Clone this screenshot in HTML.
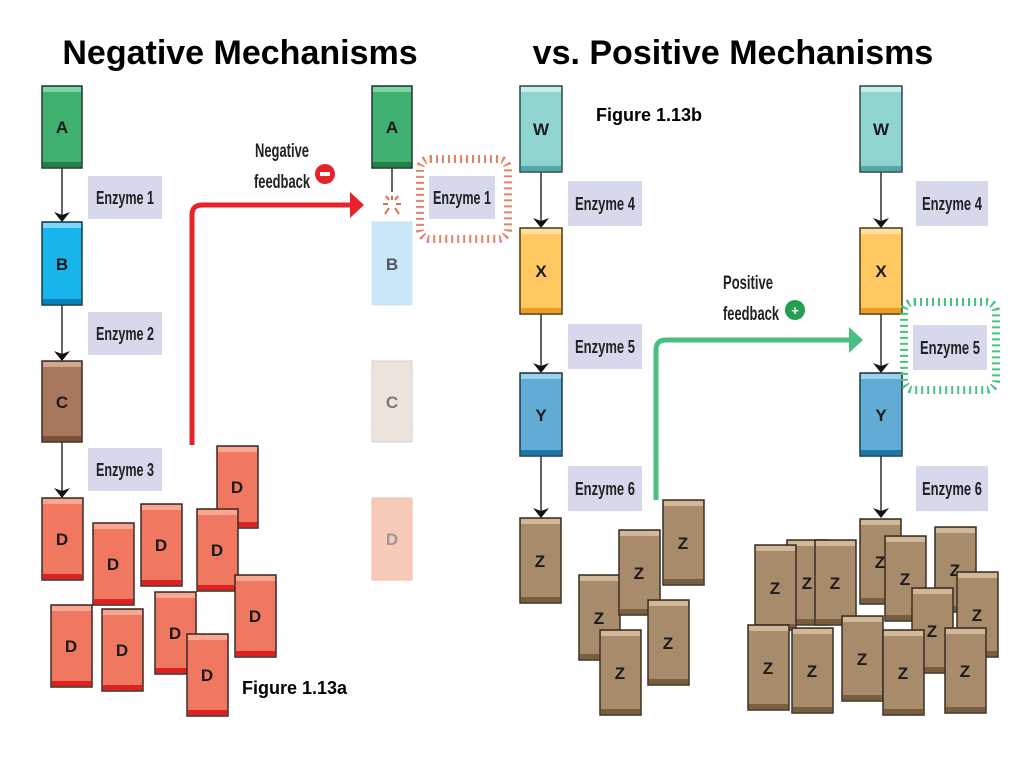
<!DOCTYPE html>
<html><head><meta charset="utf-8"><style>
body{margin:0;background:#fff;}
svg text{font-family:"Liberation Sans",sans-serif;}
.t{font-size:17px;fill:#1a1a1a;font-weight:bold;text-anchor:middle;}
.e{font-size:18px;fill:#222;text-anchor:middle;font-weight:bold;}
.f{font-size:19px;fill:#222;text-anchor:middle;font-weight:bold;}
</style></head><body>
<svg width="1024" height="768" viewBox="0 0 1024 768" xmlns="http://www.w3.org/2000/svg">
<defs>
<marker id="ar" markerWidth="10" markerHeight="18" refX="9" refY="9" orient="auto" markerUnits="userSpaceOnUse"><path d="M0,1 L10,9 L0,17 L3,9 Z" fill="#111"/></marker>
<g id="D"><rect x="0" y="0" width="41" height="82" fill="#f07860" stroke="#3a2a28" stroke-width="1.5"/><rect x="1" y="1" width="39" height="5" fill="#f8a890"/><rect x="1" y="76" width="39" height="5" fill="#e02020"/><text x="20" y="47" class="t">D</text></g>
<g id="Z"><rect x="0" y="0" width="41" height="85" fill="#a88b6b" stroke="#3a2e22" stroke-width="1.5"/><rect x="1" y="1" width="39" height="5" fill="#d0b898"/><rect x="1" y="79" width="39" height="5" fill="#7a5e40"/><text x="20" y="49" class="t">Z</text></g>
</defs>
<text x="240" y="64" font-size="34" font-weight="bold" text-anchor="middle" fill="#000">Negative Mechanisms</text>
<text x="733" y="64" font-size="34" font-weight="bold" text-anchor="middle" fill="#000">vs. Positive Mechanisms</text>
<text x="596" y="121" font-size="18" font-weight="bold" fill="#000">Figure 1.13b</text>
<text x="242" y="694" font-size="18" font-weight="bold" fill="#000">Figure 1.13a</text>

<line x1="62" y1="168" x2="62" y2="221" stroke="#111" stroke-width="1.3" marker-end="url(#ar)"/>
<line x1="62" y1="305" x2="62" y2="360" stroke="#111" stroke-width="1.3" marker-end="url(#ar)"/>
<line x1="62" y1="442" x2="62" y2="497" stroke="#111" stroke-width="1.3" marker-end="url(#ar)"/>
<g><rect x="42" y="86" width="40" height="82" fill="#3fb070" stroke="#1f3a2a" stroke-width="1.5"/><rect x="43" y="87" width="38" height="5" fill="#7ed4a0"/><rect x="43" y="162" width="38" height="5" fill="#24804a"/><text x="62" y="133" class="t">A</text></g>
<g><rect x="42" y="222" width="40" height="83" fill="#18b4ec" stroke="#1a3a4a" stroke-width="1.5"/><rect x="43" y="223" width="38" height="5" fill="#80d8f8"/><rect x="43" y="299" width="38" height="5" fill="#0a80b8"/><text x="62" y="270" class="t">B</text></g>
<g><rect x="42" y="361" width="40" height="81" fill="#a8785e" stroke="#3a2a20" stroke-width="1.5"/><rect x="43" y="362" width="38" height="5" fill="#d0a890"/><rect x="43" y="436" width="38" height="5" fill="#7a5038"/><text x="62" y="408" class="t">C</text></g>
<rect x="88" y="176" width="74" height="43" fill="#d8d8ec"/><text x="125" y="204" class="e" textLength="58" lengthAdjust="spacingAndGlyphs">Enzyme 1</text>
<rect x="88" y="312" width="74" height="43" fill="#d8d8ec"/><text x="125" y="340" class="e" textLength="58" lengthAdjust="spacingAndGlyphs">Enzyme 2</text>
<rect x="88" y="448" width="74" height="43" fill="#d8d8ec"/><text x="125" y="476" class="e" textLength="58" lengthAdjust="spacingAndGlyphs">Enzyme 3</text>
<use href="#D" x="42" y="498"/><use href="#D" x="93" y="523"/><use href="#D" x="141" y="504"/><use href="#D" x="217" y="446"/><use href="#D" x="197" y="509"/><use href="#D" x="51" y="605"/><use href="#D" x="102" y="609"/><use href="#D" x="155" y="592"/><use href="#D" x="235" y="575"/><use href="#D" x="187" y="634"/>

<path d="M192,445 V215 Q192,205 202,205 H352" fill="none" stroke="#e8222a" stroke-width="5"/>
<path d="M350,192 L364,205 L350,218 Z" fill="#e8222a"/>
<text x="282" y="157" class="f" textLength="54" lengthAdjust="spacingAndGlyphs">Negative</text>
<text x="282" y="188" class="f" textLength="56" lengthAdjust="spacingAndGlyphs">feedback</text>
<circle cx="325" cy="174" r="10" fill="#e8222a"/><rect x="320" y="172" width="10" height="4" fill="#fff"/>

<rect x="372" y="222" width="40" height="83" fill="#c8e8f8" stroke="#d0e0e8" stroke-width="1"/><text x="392" y="270" class="t" style="fill:#556">B</text>
<rect x="372" y="361" width="40" height="81" fill="#ece4dc" stroke="#d8d0c8"/><text x="392" y="408" class="t" style="fill:#777">C</text>
<rect x="372" y="498" width="40" height="82" fill="#f8cab8" stroke="#f0c0b0"/><text x="392" y="545" class="t" style="fill:#999">D</text>
<line x1="392" y1="168" x2="392" y2="192" stroke="#111" stroke-width="1.3"/>
<g stroke="#e86a4a" stroke-width="2"><line x1="392" y1="196" x2="392" y2="200"/><line x1="383" y1="204" x2="388" y2="204"/><line x1="396" y1="204" x2="401" y2="204"/><line x1="385" y1="214" x2="389" y2="208"/><line x1="399" y1="214" x2="395" y2="208"/><line x1="386" y1="196" x2="389" y2="200"/><line x1="398" y1="196" x2="395" y2="200"/></g>
<g><rect x="372" y="86" width="40" height="82" fill="#3fb070" stroke="#1f3a2a" stroke-width="1.5"/><rect x="373" y="87" width="38" height="5" fill="#7ed4a0"/><rect x="373" y="162" width="38" height="5" fill="#24804a"/><text x="392" y="133" class="t">A</text></g>
<rect x="420" y="159" width="88" height="80" fill="none" stroke="#e8806a" stroke-width="8" stroke-dasharray="2 4" rx="10"/>
<rect x="429" y="176" width="66" height="43" fill="#d8d8ec"/><text x="462" y="204" class="e" textLength="58" lengthAdjust="spacingAndGlyphs">Enzyme 1</text>

<line x1="541" y1="172" x2="541" y2="227" stroke="#111" stroke-width="1.3" marker-end="url(#ar)"/>
<line x1="541" y1="314" x2="541" y2="372" stroke="#111" stroke-width="1.3" marker-end="url(#ar)"/>
<line x1="541" y1="456" x2="541" y2="517" stroke="#111" stroke-width="1.3" marker-end="url(#ar)"/>
<g><rect x="520" y="86" width="42" height="86" fill="#90d4d0" stroke="#2a4a4a" stroke-width="1.5"/><rect x="521" y="87" width="40" height="5" fill="#c8eeec"/><rect x="521" y="166" width="40" height="5" fill="#50a8a8"/><text x="541" y="135" class="t">W</text></g>
<g><rect x="520" y="228" width="42" height="86" fill="#ffc860" stroke="#4a3a1a" stroke-width="1.5"/><rect x="521" y="229" width="40" height="5" fill="#ffe0a0"/><rect x="521" y="308" width="40" height="5" fill="#f09a20"/><text x="541" y="277" class="t">X</text></g>
<g><rect x="520" y="373" width="42" height="83" fill="#60acd4" stroke="#1a3a4a" stroke-width="1.5"/><rect x="521" y="374" width="40" height="5" fill="#a0d0ea"/><rect x="521" y="450" width="40" height="5" fill="#1878a8"/><text x="541" y="421" class="t">Y</text></g>
<use href="#Z" x="520" y="518"/>
<rect x="568" y="181" width="74" height="45" fill="#d8d8ec"/><text x="605" y="210" class="e" textLength="60" lengthAdjust="spacingAndGlyphs">Enzyme 4</text>
<rect x="568" y="324" width="74" height="45" fill="#d8d8ec"/><text x="605" y="353" class="e" textLength="60" lengthAdjust="spacingAndGlyphs">Enzyme 5</text>
<rect x="568" y="466" width="74" height="45" fill="#d8d8ec"/><text x="605" y="495" class="e" textLength="60" lengthAdjust="spacingAndGlyphs">Enzyme 6</text>
<use href="#Z" x="579" y="575"/><use href="#Z" x="619" y="530"/><use href="#Z" x="663" y="500"/><use href="#Z" x="648" y="600"/><use href="#Z" x="600" y="630"/>

<path d="M656,500 V350 Q656,340 666,340 H850" fill="none" stroke="#48c080" stroke-width="5"/>
<path d="M849,327 L863,340 L849,353 Z" fill="#48c080"/>
<text x="748" y="289" class="f" textLength="50" lengthAdjust="spacingAndGlyphs">Positive</text>
<text x="751" y="320" class="f" textLength="56" lengthAdjust="spacingAndGlyphs">feedback</text>
<circle cx="795" cy="310" r="10" fill="#22a050"/><text x="795" y="315" font-size="13" font-weight="bold" text-anchor="middle" fill="#fff">+</text>

<line x1="881" y1="172" x2="881" y2="227" stroke="#111" stroke-width="1.3" marker-end="url(#ar)"/>
<line x1="881" y1="314" x2="881" y2="372" stroke="#111" stroke-width="1.3" marker-end="url(#ar)"/>
<line x1="881" y1="456" x2="881" y2="517" stroke="#111" stroke-width="1.3" marker-end="url(#ar)"/>
<g><rect x="860" y="86" width="42" height="86" fill="#90d4d0" stroke="#2a4a4a" stroke-width="1.5"/><rect x="861" y="87" width="40" height="5" fill="#c8eeec"/><rect x="861" y="166" width="40" height="5" fill="#50a8a8"/><text x="881" y="135" class="t">W</text></g>
<g><rect x="860" y="228" width="42" height="86" fill="#ffc860" stroke="#4a3a1a" stroke-width="1.5"/><rect x="861" y="229" width="40" height="5" fill="#ffe0a0"/><rect x="861" y="308" width="40" height="5" fill="#f09a20"/><text x="881" y="277" class="t">X</text></g>
<g><rect x="860" y="373" width="42" height="83" fill="#60acd4" stroke="#1a3a4a" stroke-width="1.5"/><rect x="861" y="374" width="40" height="5" fill="#a0d0ea"/><rect x="861" y="450" width="40" height="5" fill="#1878a8"/><text x="881" y="421" class="t">Y</text></g>
<rect x="916" y="181" width="72" height="45" fill="#d8d8ec"/><text x="952" y="210" class="e" textLength="60" lengthAdjust="spacingAndGlyphs">Enzyme 4</text>
<rect x="904" y="302" width="92" height="88" fill="none" stroke="#48c080" stroke-width="8" stroke-dasharray="2 4" rx="10"/>
<rect x="913" y="325" width="74" height="45" fill="#d8d8ec"/><text x="950" y="354" class="e" textLength="60" lengthAdjust="spacingAndGlyphs">Enzyme 5</text>
<rect x="916" y="466" width="72" height="45" fill="#d8d8ec"/><text x="952" y="495" class="e" textLength="60" lengthAdjust="spacingAndGlyphs">Enzyme 6</text>
<use href="#Z" x="787" y="540"/><use href="#Z" x="815" y="540"/><use href="#Z" x="755" y="545"/><use href="#Z" x="860" y="519"/><use href="#Z" x="935" y="527"/><use href="#Z" x="885" y="536"/><use href="#Z" x="957" y="572"/><use href="#Z" x="912" y="588"/><use href="#Z" x="748" y="625"/><use href="#Z" x="792" y="628"/><use href="#Z" x="842" y="616"/><use href="#Z" x="883" y="630"/><use href="#Z" x="945" y="628"/>
</svg>
</body></html>
